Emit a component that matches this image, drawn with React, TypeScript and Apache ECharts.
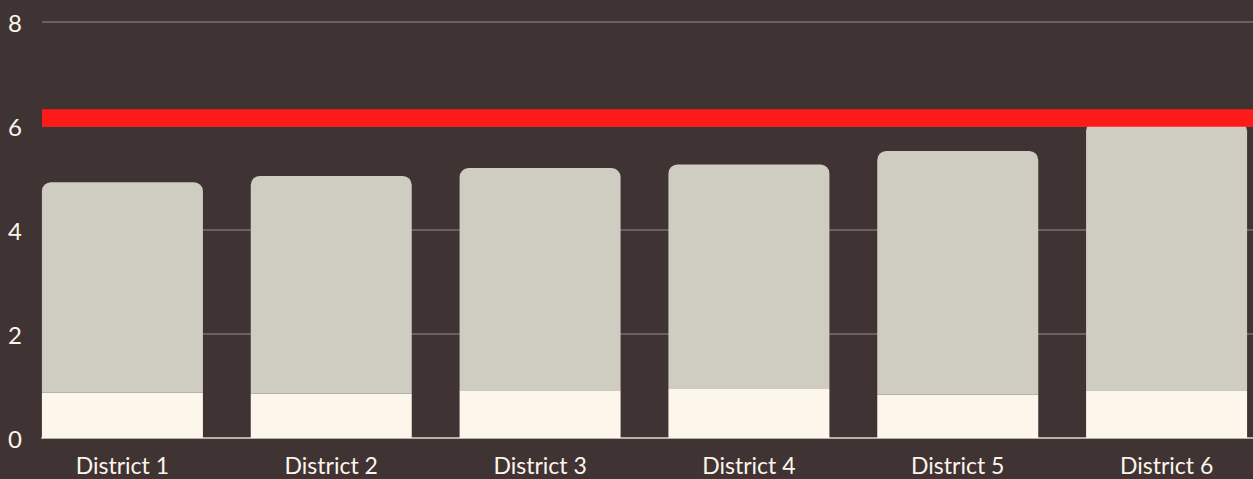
import React, { useEffect, useRef } from "react";
import * as echarts from "echarts";

const categories = ["District 1", "District 2", "District 3", "District 4", "District 5", "District 6"];
const baseValues = [0.87, 0.85, 0.92, 0.94, 0.83, 0.92];
const totalValues = [4.92, 5.04, 5.19, 5.26, 5.52, 6.08];
const topValues = totalValues.map((t, i) => +(t - baseValues[i]).toFixed(2));
const targetValue = 6.15;
const yTicks = { min: 0, max: 8, interval: 2 };

const BG = "#403334";
const TEXT = "#FDF6EA";
const FONT = "Lato";

export default function App() {
  const ref = useRef<HTMLDivElement>(null);
  useEffect(() => {
    if (!ref.current) return;
    const chart = echarts.init(ref.current, undefined, { renderer: "svg" });
    chart.setOption({
      animation: false,
      backgroundColor: BG,
      grid: [
        { left: 42, right: 0, top: 22, bottom: 41, outerBoundsMode: "none" },
        { left: 18, width: 1253, top: 22, bottom: 41, outerBoundsMode: "none" },
      ],
      xAxis: [
        {
          type: "category",
          gridIndex: 0,
          data: categories,
          axisLine: { show: true, lineStyle: { color: "#b8afab", width: 2 } },
          axisTick: { show: false },
          axisLabel: { show: false },
        },
        {
          type: "category",
          gridIndex: 1,
          data: categories,
          axisLine: { show: false },
          axisTick: { show: false },
          axisLabel: { color: TEXT, fontSize: 23, fontFamily: FONT, margin: 15 },
        },
      ],
      yAxis: [
        {
          type: "value",
          gridIndex: 0,
          min: yTicks.min,
          max: yTicks.max,
          interval: yTicks.interval,
          axisLine: { show: false },
          axisTick: { show: false },
          axisLabel: { color: TEXT, fontSize: 24, fontFamily: FONT, margin: 20 },
          splitLine: { lineStyle: { color: "#7a6f6f", width: 1.5 } },
        },
        {
          type: "value",
          gridIndex: 1,
          min: yTicks.min,
          max: yTicks.max,
          interval: yTicks.interval,
          show: false,
          splitLine: { show: false },
        },
      ],
      series: [
        {
          type: "bar",
          xAxisIndex: 1,
          yAxisIndex: 1,
          stack: "s",
          barWidth: 161,
          data: baseValues,
          itemStyle: { color: "#FDF6EA" },
        },
        {
          type: "bar",
          xAxisIndex: 1,
          yAxisIndex: 1,
          stack: "s",
          barWidth: 161,
          data: topValues,
          itemStyle: { color: "#CFCDC1", borderRadius: [9, 9, 0, 0] },
        },
        {
          type: "line",
          xAxisIndex: 0,
          yAxisIndex: 0,
          data: [],
          z: 10,
          markLine: {
            silent: true,
            symbol: "none",
            label: { show: false },
            lineStyle: { color: "#FF1A1A", width: 17.5, type: "solid" },
            data: [{ yAxis: targetValue }],
          },
        },
      ],
    });
    return () => chart.dispose();
  }, []);
  return <div ref={ref} style={{ width: 1253, height: 479, position: "absolute", left: 0, top: 0 }} />;
}
